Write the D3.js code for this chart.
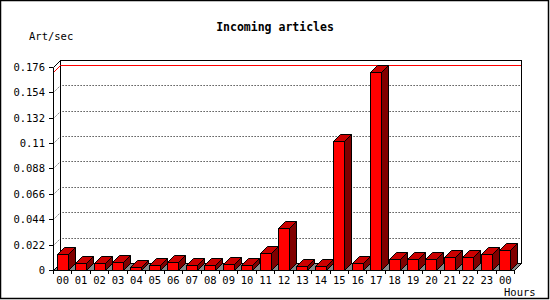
<!DOCTYPE html>
<html>
<head>
<meta charset="utf-8">
<script src="https://cdn.jsdelivr.net/npm/d3@7"></script>
<style>
  body { margin: 0; background: #fff; }
  text { font-family: "DejaVu Sans Mono", monospace; fill: #000; }
</style>
</head>
<body>
<div class="bar-chart"></div>
<script>
// data
const hourLabels = ['00','01','02','03','04','05','06','07','08','09','10','11',
                    '12','13','14','15','16','17','18','19','20','21','22','23','00'];
const artPerSec = [0.0139, 0.0058, 0.0058, 0.0069, 0.0023, 0.0040, 0.0069, 0.0040,
                   0.0040, 0.0049, 0.0040, 0.0147, 0.0361, 0.0032, 0.0032, 0.1115,
                   0.0061, 0.1712, 0.0092, 0.0092, 0.0092, 0.0110, 0.0110, 0.0136, 0.0173];
const yTicks = [0, 0.022, 0.044, 0.066, 0.088, 0.11, 0.132, 0.154, 0.176];

const svg_width = 550, svg_height = 300;
const depth = 7; // 3d offset
const front = {left: 53, right: 514, bottom: 270};

const svg = d3.select('.bar-chart').append('svg')
    .attr('width', svg_width).attr('height', svg_height);

// outer frame
svg.append('rect').attr('x', 0.5).attr('y', 0.5)
    .attr('width', 548).attr('height', 298)
    .style('fill', '#fff').style('stroke', '#000').style('stroke-width', 1.5);

const xScale = d3.scaleBand().domain(d3.range(artPerSec.length))
    .range([front.left, front.right]).paddingInner(0.4).paddingOuter(0.2);
const yScale = d3.scaleLinear().domain([0, 0.176]).range([front.bottom, 66.8]);
const step = xScale.step(), bw = Math.round(xScale.bandwidth());
const px = v => Math.round(v) + 0.5; // snap to pixel
const yMaxVal = d3.max(artPerSec);

// back wall
const backTop = Math.round(yScale(0.176)) - depth, backBottom = front.bottom - depth;
svg.append('rect')
    .attr('x', front.left + depth + 0.5).attr('y', backTop + 0.5)
    .attr('width', front.right - front.left).attr('height', backBottom - backTop)
    .style('fill', '#fff').style('stroke', '#000');

// grid lines (dotted, across left wall and back wall)
const grid = svg.append('g').attr('class', 'grid');
grid.selectAll('path').data(yTicks.slice(1, -1)).enter().append('path')
    .attr('d', d => `M${front.left + 0.5},${px(yScale(d))}l${depth},${-depth}H${front.right + depth}`)
    .style('fill', 'none').style('stroke', '#000').style('stroke-dasharray', '1,2');

// max line in red
svg.append('path')
    .attr('d', `M${front.left + 0.5},${px(yScale(yMaxVal))}l${depth},${-depth}H${front.right + depth}`)
    .style('fill', 'none').style('stroke', '#f00');

// floor
svg.append('path')
    .attr('d', `M${front.left + 0.5},${front.bottom + 0.5}H${front.right + 0.5}l${depth},${-depth}H${front.left + depth + 0.5}Z`)
    .style('fill', '#888').style('stroke', '#000');

// left wall edges
svg.append('path')
    .attr('d', `M${front.left + 0.5},${front.bottom + 0.5}V${backTop + depth + 0.5}l${depth},${-depth}`)
    .style('fill', 'none').style('stroke', '#000');

// bars
const bars = svg.append('g').attr('class', 'bars')
    .selectAll('g').data(artPerSec).enter().append('g');
bars.append('path') // side
    .attr('d', (d, i) => {
        const x = px(xScale(i)) + bw, y = px(yScale(d));
        return `M${x},${y}l${depth},${-depth}V${front.bottom - depth + 0.5}l${-depth},${depth}Z`;
    })
    .style('fill', '#800000').style('stroke', '#000');
bars.append('path') // top
    .attr('d', (d, i) => {
        const x = px(xScale(i)), y = px(yScale(d));
        return `M${x},${y}l${depth},${-depth}h${bw}l${-depth},${depth}Z`;
    })
    .style('fill', '#cc0000').style('stroke', '#000');
bars.append('rect') // front
    .attr('x', (d, i) => px(xScale(i))).attr('y', d => px(yScale(d)))
    .attr('width', bw).attr('height', d => front.bottom + 0.5 - px(yScale(d)))
    .style('fill', '#f00').style('stroke', '#000');

// y axis ticks and labels
const yAxis = svg.append('g').attr('class', 'y axis');
yAxis.selectAll('line').data(yTicks).enter().append('line')
    .attr('x1', front.left - 4).attr('x2', front.left)
    .attr('y1', d => px(yScale(d))).attr('y2', d => px(yScale(d)))
    .style('stroke', '#000');
yAxis.selectAll('text').data(yTicks).enter().append('text')
    .attr('x', 45).attr('y', d => yScale(d))
    .attr('text-anchor', 'end').attr('dominant-baseline', 'central')
    .style('font-size', '10.5px')
    .text(d => d3.format('~g')(d));

// x axis ticks and labels
const xTickPos = d3.range(artPerSec.length + 1).map(i => front.left + i * step);
const xAxis = svg.append('g').attr('class', 'x axis');
xAxis.selectAll('line').data(xTickPos).enter().append('line')
    .attr('x1', d => px(d)).attr('x2', d => px(d))
    .attr('y1', front.bottom).attr('y2', front.bottom + 4)
    .style('stroke', '#000');
xAxis.selectAll('text').data(hourLabels).enter().append('text')
    .attr('x', (d, i) => xScale(i) + bw / 2 + 0.5).attr('y', 284)
    .attr('text-anchor', 'middle')
    .style('font-size', '10.5px')
    .text(d => d);

// titles
svg.append('text').attr('x', 275).attr('y', 31).attr('text-anchor', 'middle')
    .style('font-size', '11.5px').style('font-weight', 'bold')
    .text('Incoming articles');
svg.append('text').attr('x', 29).attr('y', 40)
    .style('font-size', '10.5px').text('Art/sec');
svg.append('text').attr('x', 504).attr('y', 296)
    .style('font-size', '10.5px').text('Hours');
</script>
</body>
</html>
